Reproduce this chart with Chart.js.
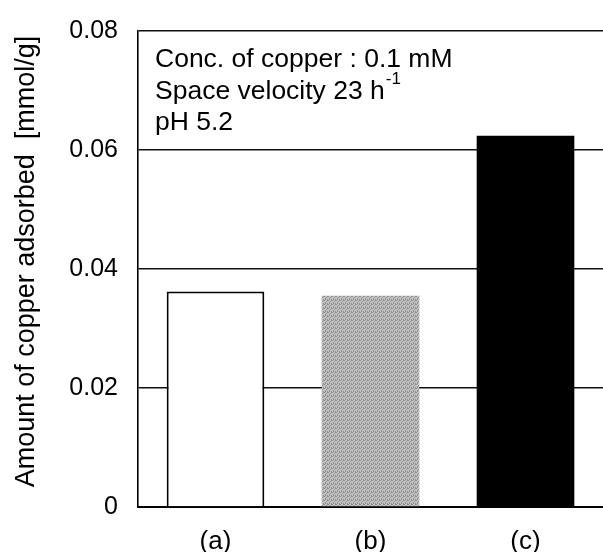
<!DOCTYPE html>
<html>
<head>
<meta charset="utf-8">
<script src="https://cdn.jsdelivr.net/npm/chart.js@4"></script>
<style>
  html, body { margin: 0; padding: 0; background: #fff; overflow: hidden; }
  #wrap { width: 603px; height: 552px; }
</style>
</head>
<body>
<div id="wrap"><canvas id="myChart"></canvas></div>
<script>
// data
const categorias = ["(a)", "(b)", "(c)"];
const valores = [0.0362, 0.0355, 0.0624];
const ticksY = [0, 0.02, 0.04, 0.06, 0.08];
const notas = ["Conc. of copper : 0.1 mM", "Space velocity 23 h", "pH 5.2"];

const fuente = "'Liberation Sans', Arial, sans-serif";

// grey stipple for bar (b)
function patronGris() {
  const c = document.createElement("canvas");
  c.width = 4; c.height = 4;
  const ctx = c.getContext("2d");
  ctx.fillStyle = "#c4c4c4";
  ctx.fillRect(0, 0, 4, 4);
  ctx.fillStyle = "#8c8c8c";
  ctx.fillRect(0, 0, 1, 1);
  ctx.fillRect(2, 1, 1, 1);
  ctx.fillRect(1, 2, 1, 1);
  ctx.fillRect(3, 3, 1, 1);
  ctx.fillRect(3, 0, 1, 1);
  ctx.fillRect(1, 3, 1, 1);
  return ctx.createPattern(c, "repeat");
}

// text box in the upper left of the plot
const notasPlugin = {
  id: "notas",
  afterDatasetsDraw(chart) {
    const { ctx, chartArea } = chart;
    const x = chartArea.left + 17;
    let y = chartArea.top + 29;
    ctx.save();
    ctx.fillStyle = "#000";
    ctx.textBaseline = "middle";
    ctx.font = "26.5px " + fuente;
    notas.forEach((t, i) => {
      ctx.fillText(t, x, y);
      if (i === 1) {
        const w = ctx.measureText(t).width;
        ctx.font = "17px " + fuente;
        ctx.fillText("-1", x + w + 1, y - 12);
        ctx.font = "26.5px " + fuente;
      }
      y += 31.5;
    });
    ctx.restore();
  }
};

const config = {
  type: "bar",
  data: {
    labels: categorias,
    datasets: [{
      data: valores,
      backgroundColor: ["#ffffff", patronGris(), "#000000"],
      borderColor: "#000",
      borderWidth: [2, 0, 0],
      barPercentage: 0.63,
      categoryPercentage: 1
    }]
  },
  options: {
    responsive: true,
    maintainAspectRatio: false,
    animation: false,
    events: [],
    layout: { padding: { top: 31, right: 0, bottom: 0, left: 0 } },
    plugins: {
      legend: { display: false },
      tooltip: { enabled: false }
    },
    scales: {
      x: {
        grid: { display: false },
        border: { display: true, color: "#000", width: 2 },
        ticks: { color: "#000", font: { family: fuente, size: 26 }, padding: 11 },
        afterFit(axis) { axis.height = 45; }
      },
      y: {
        min: 0,
        max: 0.08,
        afterBuildTicks(axis) { axis.ticks = ticksY.map(v => ({ value: v })); },
        grid: { color: "#111", lineWidth: 1.6, drawTicks: false },
        border: { display: true, color: "#000", width: 1.6 },
        ticks: {
          color: "#000",
          font: { family: fuente, size: 25 },
          padding: 20,
          callback: v => v === 0 ? "0" : v.toFixed(2)
        },
        title: {
          display: true,
          text: "  Amount of copper adsorbed  [mmol/g]",
          color: "#000",
          font: { family: fuente, size: 27 },
          padding: { top: 10, bottom: 0 }
        },
        afterFit(axis) {
          axis.width = 138;
          axis.paddingTop = 0;
          axis.paddingBottom = 0;
        }
      }
    }
  },
  plugins: [notasPlugin]
};

const myChart = document.getElementById("myChart");
new Chart(myChart, config);
</script>
</body>
</html>
